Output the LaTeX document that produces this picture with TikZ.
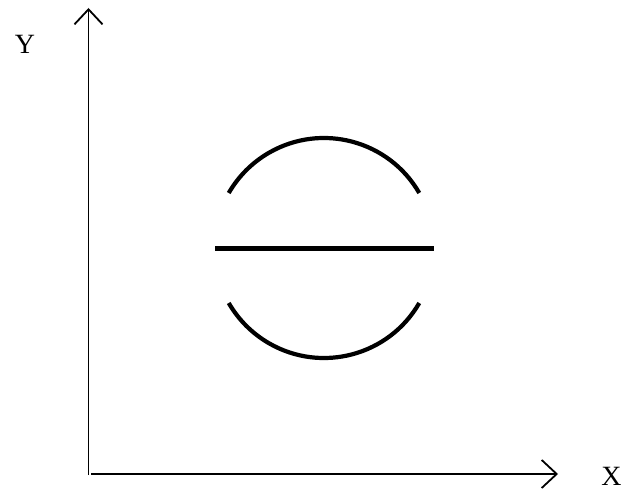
\documentclass[tikz,border=0pt]{standalone}
\usepackage{fontspec}
\setmainfont{Liberation Serif}
\usetikzlibrary{arrows.meta}
\begin{document}
\begin{tikzpicture}[x=1bp,y=-1bp,
  axis/.style={line width=1.8bp,-{Straight Barb[length=15bp,width=28bp,line width=1.8bp]}},
  arcline/.style={line width=4.2bp},
  barline/.style={line width=5bp},
  lbl/.style={font=\fontsize{28}{28}\selectfont,inner sep=0pt}]
\useasboundingbox (0,0) rectangle (625,490);
\coordinate (ybot) at (88.5,475);
\coordinate (ytop) at (88.5,8);
\coordinate (xleft) at (91,474);
\coordinate (xright) at (558,474);
\draw[axis] (ybot) -- (ytop);
\draw[axis] (xleft) -- (xright);
\node[lbl] (ylab) at (25,44) {Y};
\node[lbl] (xlab) at (611.5,476) {X};
\coordinate (c) at (324,248);
\draw[arcline] ([shift={(-30:110)}]c) arc[start angle=-30,end angle=-150,radius=110];
\draw[arcline] ([shift={(30:110)}]c) arc[start angle=30,end angle=150,radius=110];
\coordinate (bl) at (215,248.5);
\coordinate (br) at (434,248.5);
\draw[barline] (bl) -- (br);
\end{tikzpicture}
\end{document}
